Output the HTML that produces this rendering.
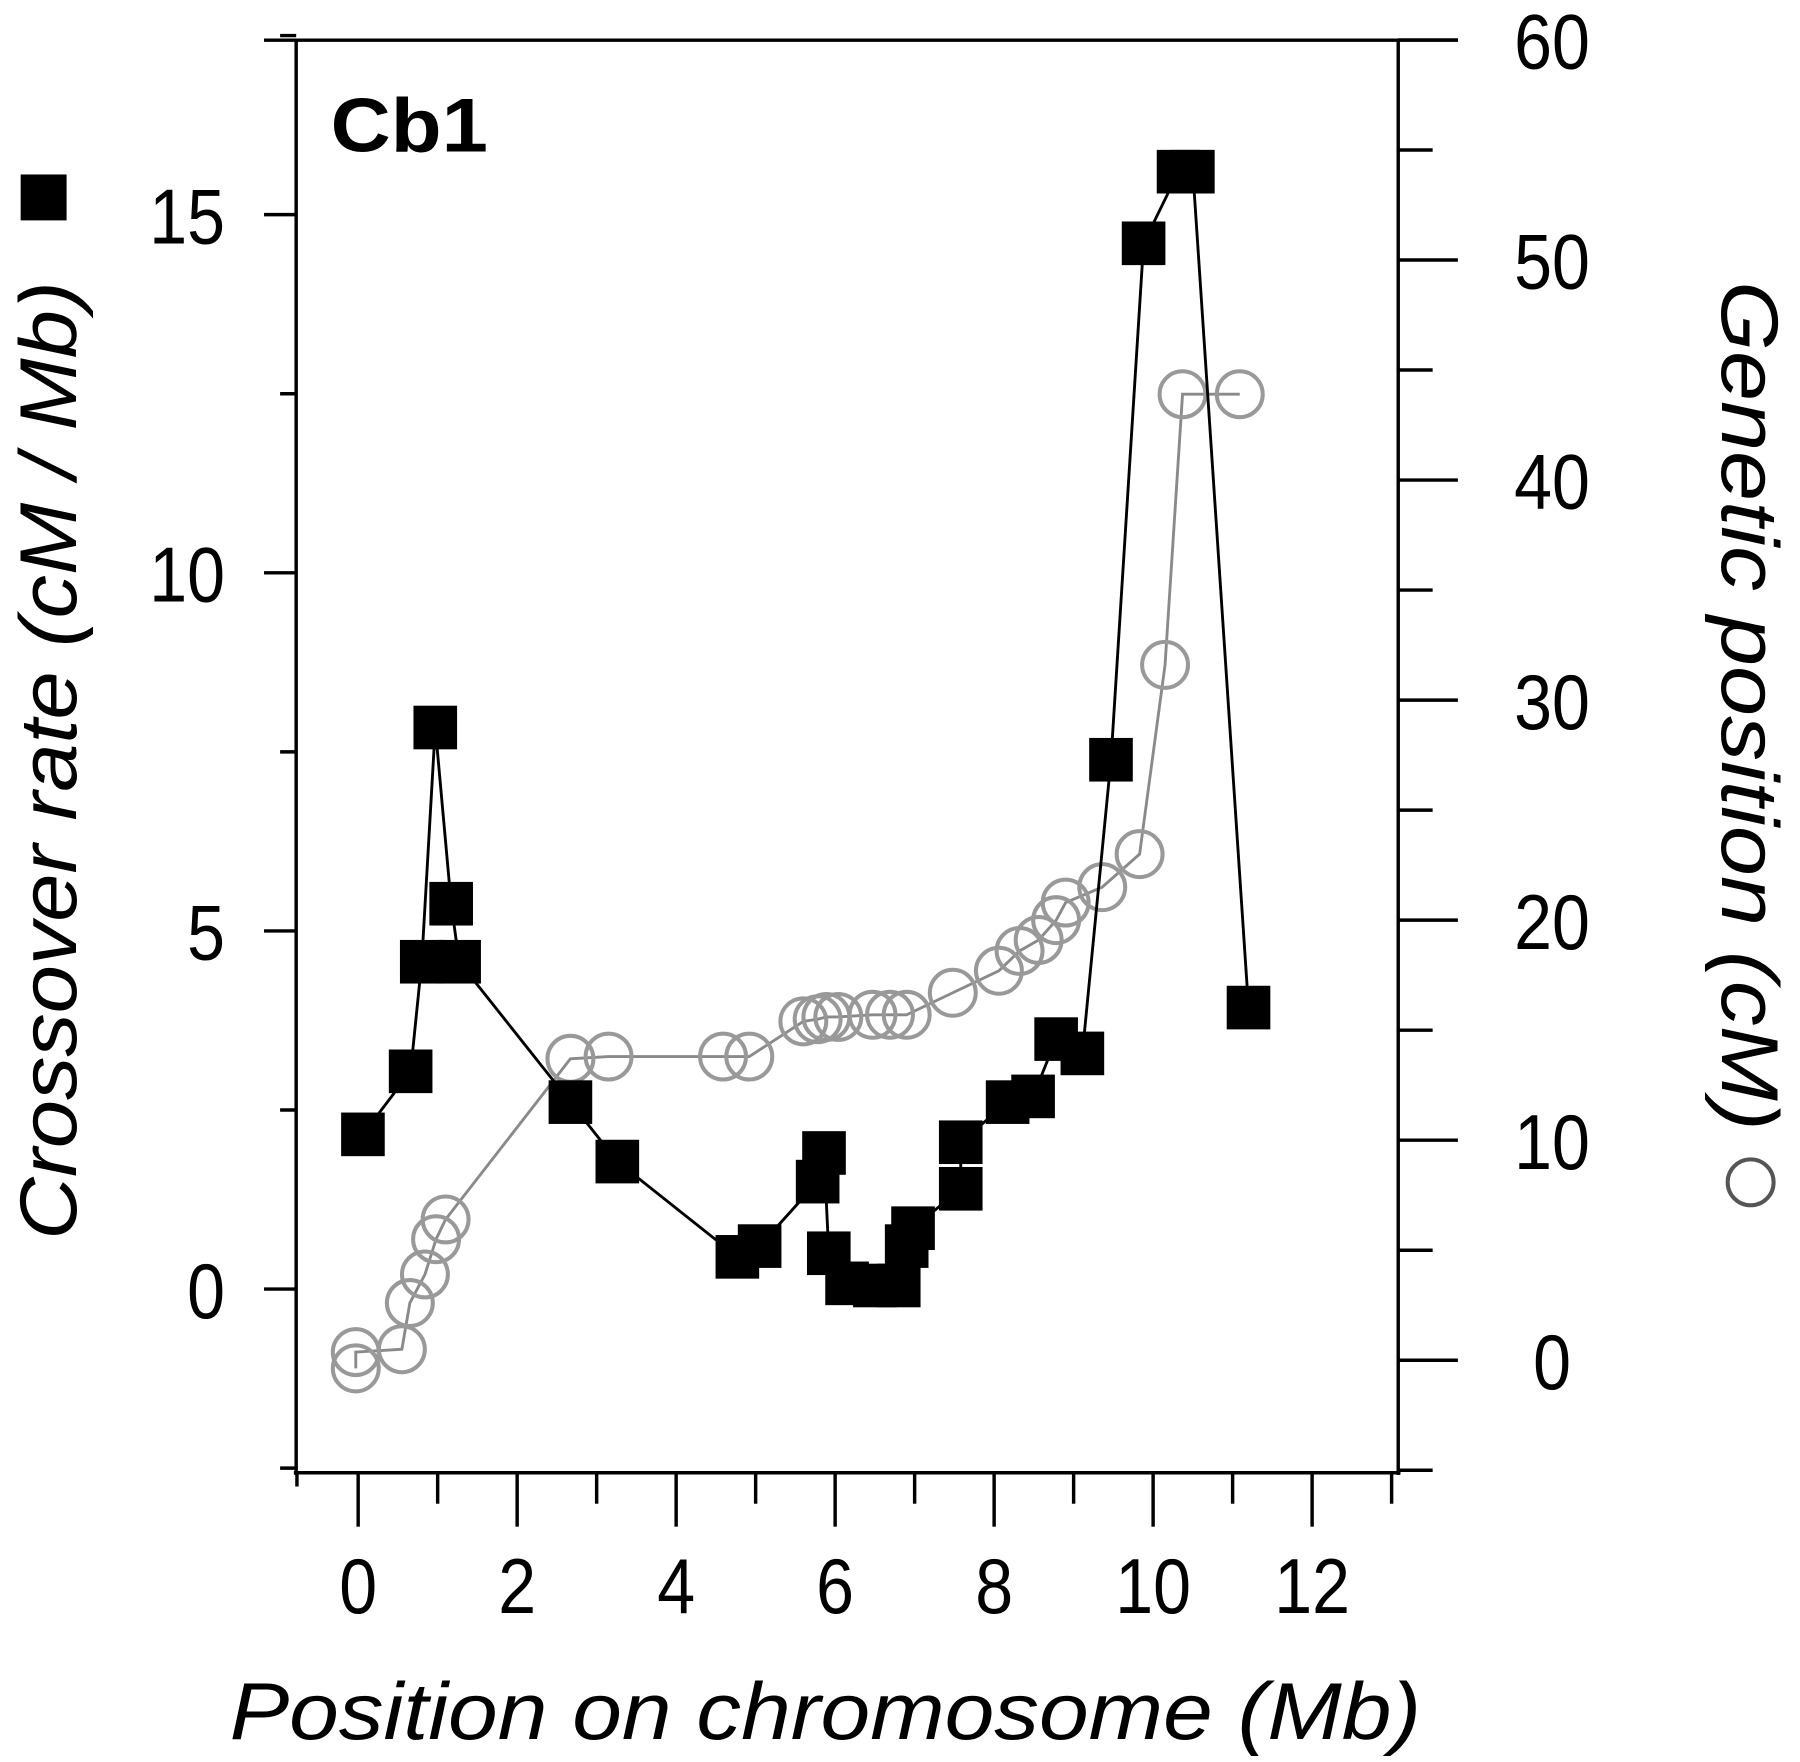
<!DOCTYPE html>
<html><head><meta charset="utf-8"><style>
html,body{margin:0;padding:0;background:#fff}
svg{display:block}
text{font-family:"Liberation Sans",Arial,sans-serif}
</style></head><body>
<svg id="chart" width="1800" height="1762" viewBox="0 0 1568 1535" preserveAspectRatio="none" xmlns="http://www.w3.org/2000/svg">
<g id="axes"></g>
<g id="series"></g>
<text x="288" y="132" font-size="66" font-weight="bold" textLength="137" lengthAdjust="spacingAndGlyphs">Cb1</text>
<text x="200" y="1515" font-size="70" font-style="italic" textLength="1038" lengthAdjust="spacingAndGlyphs">Position on chromosome (Mb)</text>
<g transform="translate(66,0) rotate(-90)">
<text x="-1080" y="0" font-size="70" font-style="italic" textLength="835" lengthAdjust="spacingAndGlyphs">Crossover rate (cM / Mb)</text>
<rect x="-192" y="-48" width="40" height="40" fill="#000"/>
</g>
<g transform="translate(1500,0) rotate(90)">
<text x="245" y="0" font-size="70" font-style="italic" textLength="740" lengthAdjust="spacingAndGlyphs">Genetic position (cM)</text>
<circle cx="1030" cy="-25" r="20" fill="none" stroke="#555" stroke-width="3.5"/>
</g>
</svg>
<script>
const rateX=[0.06,0.66,0.8,0.97,1.17,1.27,2.67,3.26,4.77,5.05,5.78,5.86,5.92,6.15,6.5,6.8,6.9,6.98,7.58,7.58,8.17,8.49,8.78,9.11,9.47,9.88,10.32,10.5,11.2];
const rateY=[2.16,3.04,4.57,7.84,5.38,4.57,2.61,1.78,0.45,0.6,1.5,1.9,0.5,0.08,0.05,0.05,0.6,0.85,1.4,2.05,2.61,2.69,3.49,3.29,7.39,14.6,15.6,15.6,3.93];
const genX=[-0.03,-0.03,0.55,0.65,0.84,0.98,1.1,2.67,3.15,4.59,4.92,5.6,5.78,5.89,6.04,6.47,6.69,6.9,7.48,8.06,8.32,8.56,8.78,8.9,9.36,9.83,10.15,10.37,11.09];
const genY=[-0.37,0.37,0.5,2.6,3.9,5.5,6.4,13.7,13.8,13.8,13.8,15.4,15.5,15.6,15.6,15.7,15.7,15.7,16.7,17.7,18.6,19.1,20.0,20.8,21.5,23.0,31.6,43.9,43.9];
const xTicks=[0,2,4,6,8,10,12];
const leftTicks=[0,5,10,15];
const rightTicks=[0,10,20,30,40,50,60];

const X=v=>312+v*69.25;
const YL=v=>1123-v*62.4;
const YR=v=>1185-v*19.17;
const NS="http://www.w3.org/2000/svg";
const axes=document.getElementById('axes'), ser=document.getElementById('series');
function mk(tag,attrs,parent){const e=document.createElementNS(NS,tag);for(const k in attrs)e.setAttribute(k,attrs[k]);parent.appendChild(e);return e;}
function line(x1,y1,x2,y2,parent,w){return mk('line',{x1,y1,x2,y2,stroke:'#000','stroke-width':w||3},parent);}
function num(v,x,y,anchor){const s=String(v);return mk('text',{x,y,'font-size':68,'text-anchor':anchor,textLength:s.length*33,lengthAdjust:'spacingAndGlyphs'},axes);}

let e;
e=line(258,35,258,1285,axes);


e=line(1218,35,1218,1285,axes);


e=line(256,1283,1220,1283,axes);


line(230,35,1270,35,axes);
for(let v=-2.5;v<=17.5;v+=2.5){const y=YL(v);if(y<30||y>1285)continue;const major=v%5===0;line(major?230:244,y,258,y,axes);}
leftTicks.forEach(v=>{const t=num(v,196,YL(v)+25,'end');t.textContent=v;

});
for(let v=-5;v<=60;v+=5){const y=YR(v);if(y<30||y>1285)continue;const major=v%10===0;line(1218,y,major?1270:1248,y,axes);}
rightTicks.forEach(v=>{const t=num(v,1352,YR(v)+25,'middle');t.textContent=v;

});
for(let v=0;v<=13;v++){const x=X(v);line(x,1283,x,v%2===0?1330:1310,axes);}
line(X(-0.77),1283,X(-0.77),1295,axes);
xTicks.forEach(v=>{const t=num(v,X(v),1405,'middle');t.textContent=v;

});

e=mk('polyline',{points:genX.map((x,i)=>X(x)+','+YR(genY[i])).join(' '),fill:'none',stroke:'#8a8a8a','stroke-width':2.5},ser);


genX.forEach((x,i)=>{const c=mk('circle',{cx:X(x),cy:YR(genY[i]),r:20,fill:'none',stroke:'#999','stroke-width':3.5},ser);

});
e=mk('polyline',{points:rateX.map((x,i)=>X(x)+','+YL(rateY[i])).join(' '),fill:'none',stroke:'#000','stroke-width':2.5},ser);


rateX.forEach((x,i)=>{const r=mk('rect',{x:X(x)-19,y:YL(rateY[i])-19,width:38,height:38,fill:'#000'},ser);

});
</script>
</body></html>
